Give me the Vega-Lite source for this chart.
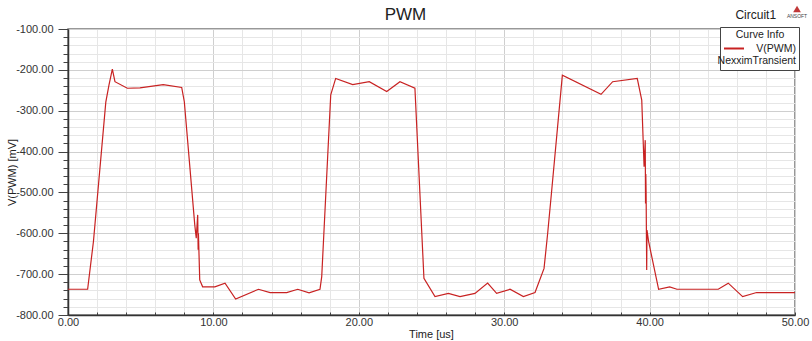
{
  "$schema": "https://vega.github.io/schema/vega-lite/v6.json",
  "width": 727,
  "height": 286,
  "autosize": "none",
  "padding": {"left": 68, "top": 29, "right": 17, "bottom": 26},
  "background": "white",
  "title": {"text": "PWM", "fontSize": 17, "font": "Liberation Sans", "fontWeight": "normal", "color": "#222", "offset": 0, "dx": -26, "dy": 18},
  "config": {"view": {"stroke": "#777", "strokeWidth": 1.5}, "font": "Liberation Sans"},
  "resolve": {"axis": {"x": "independent", "y": "independent"}},
  "layer": [
    {
      "data": {"values": [
        {"t": 0, "v": -737}, {"t": 1.35, "v": -737}, {"t": 1.75, "v": -620}, {"t": 2.6, "v": -279},
        {"t": 2.82, "v": -237}, {"t": 3.05, "v": -198}, {"t": 3.23, "v": -229}, {"t": 4.08, "v": -245},
        {"t": 4.95, "v": -244}, {"t": 6.55, "v": -236}, {"t": 7.82, "v": -243}, {"t": 8.0, "v": -278},
        {"t": 8.72, "v": -580}, {"t": 8.82, "v": -612}, {"t": 8.92, "v": -555}, {"t": 8.95, "v": -640},
        {"t": 8.97, "v": -600}, {"t": 9.06, "v": -714}, {"t": 9.26, "v": -731}, {"t": 10.1, "v": -731},
        {"t": 10.8, "v": -722}, {"t": 11.53, "v": -761}, {"t": 13.1, "v": -737}, {"t": 13.9, "v": -745},
        {"t": 15.04, "v": -745}, {"t": 15.8, "v": -737}, {"t": 16.58, "v": -746}, {"t": 17.33, "v": -737},
        {"t": 17.45, "v": -706}, {"t": 18.07, "v": -261}, {"t": 18.41, "v": -221}, {"t": 19.58, "v": -236},
        {"t": 20.72, "v": -229}, {"t": 21.92, "v": -253}, {"t": 22.83, "v": -229}, {"t": 23.86, "v": -245},
        {"t": 24.48, "v": -710}, {"t": 25.24, "v": -755}, {"t": 26.16, "v": -747}, {"t": 26.96, "v": -755},
        {"t": 27.99, "v": -747}, {"t": 28.86, "v": -722}, {"t": 29.48, "v": -747}, {"t": 30.4, "v": -737},
        {"t": 31.32, "v": -755}, {"t": 32.12, "v": -745}, {"t": 32.74, "v": -686}, {"t": 32.99, "v": -600},
        {"t": 33.27, "v": -494}, {"t": 34.0, "v": -213}, {"t": 36.66, "v": -260}, {"t": 37.46, "v": -229},
        {"t": 39.15, "v": -221}, {"t": 39.46, "v": -274}, {"t": 39.62, "v": -437}, {"t": 39.7, "v": -372},
        {"t": 39.72, "v": -527}, {"t": 39.74, "v": -455}, {"t": 39.76, "v": -500}, {"t": 39.8, "v": -690},
        {"t": 39.82, "v": -592}, {"t": 39.93, "v": -620}, {"t": 40.62, "v": -737}, {"t": 41.38, "v": -731},
        {"t": 41.88, "v": -737}, {"t": 44.72, "v": -737}, {"t": 45.41, "v": -722}, {"t": 46.4, "v": -755},
        {"t": 47.36, "v": -745}, {"t": 50, "v": -745}
      ]},
      "mark": {"type": "line", "strokeWidth": 1.2, "clip": true},
      "encoding": {
        "x": {
          "field": "t", "type": "quantitative",
          "scale": {"domain": [0, 50], "nice": false, "zero": false},
          "axis": {
            "title": "Time [us]",
            "values": [0, 2, 4, 6, 8, 10, 12, 14, 16, 18, 20, 22, 24, 26, 28, 30, 32, 34, 36, 38, 40, 42, 44, 46, 48, 50],
            "labelExpr": "datum.value % 10 === 0 ? format(datum.value, '.2f') : ''",
            "labelFlush": false, "labelOverlap": false,
            "labelFont": "Liberation Sans", "labelFontSize": 11, "labelColor": "#333",
            "labelBaseline": "top", "labelPadding": 4,
            "tickSize": -3, "tickColor": "#444",
            "domainColor": "#333", "domainWidth": 1.5,
            "gridColor": {"condition": {"test": "datum.value % 10 === 0", "value": "#cfcfcf"}, "value": "#e6e6e6"},
            "titleFont": "Liberation Sans", "titleFontSize": 11, "titleFontWeight": "normal", "titleColor": "#222",
            "titleX": 363, "titleY": 19, "titleBaseline": "middle", "titleAlign": "center"
          }
        },
        "y": {
          "field": "v", "type": "quantitative",
          "scale": {"domain": [-800, -100], "nice": false, "zero": false},
          "axis": {
            "title": "V(PWM) [mV]",
            "values": [-800, -780, -760, -740, -720, -700, -680, -660, -640, -620, -600, -580, -560, -540, -520, -500, -480, -460, -440, -420, -400, -380, -360, -340, -320, -300, -280, -260, -240, -220, -200, -180, -160, -140, -120, -100],
            "labelExpr": "datum.value % 100 === 0 ? (datum.value < 0 ? '-' : '') + format(abs(datum.value), '.2f') : ''",
            "labelFlush": false, "labelOverlap": false,
            "labelFont": "Liberation Sans", "labelFontSize": 11, "labelColor": "#333", "labelPadding": 5,
            "tickSize": {"condition": {"test": "datum.value % 100 === 0", "value": 10}, "value": 5},
            "tickColor": "#444",
            "domainColor": "#333", "domainWidth": 1.5,
            "gridColor": {"condition": {"test": "datum.value % 100 === 0", "value": "#cfcfcf"}, "value": "#e6e6e6"},
            "titleFont": "Liberation Sans", "titleFontSize": 11, "titleFontWeight": "normal", "titleColor": "#222",
            "titleX": -56, "titleY": 143, "titleAngle": -90, "titleBaseline": "middle", "titleAlign": "center"
          }
        },
        "color": {
          "datum": "V(PWM)",
          "scale": {"range": ["#c82222"]},
          "legend": {
            "title": "Curve Info", "orient": "none", "legendX": 652, "legendY": -2,
            "titleAnchor": "middle", "titleFont": "Liberation Sans", "titleFontSize": 10.5, "titleFontWeight": "normal", "titleColor": "#222",
            "titlePadding": -3,
            "labelExpr": "['V(PWM)', 'NexximTransient']",
            "labelFont": "Liberation Sans", "labelFontSize": 10.5, "labelColor": "#222",
            "labelAlign": "right", "labelOffset": 51,
            "symbolType": "stroke", "symbolSize": 400, "symbolStrokeWidth": 2,
            "strokeColor": "#444", "fillColor": "white", "padding": 3
          }
        }
      }
    },
    {
      "data": {"values": [{"label": "Circuit1"}]},
      "mark": {"type": "text", "font": "Liberation Sans", "fontSize": 12, "color": "#222"},
      "encoding": {"x": {"datum": 47.3, "axis": null}, "y": {"datum": -66, "axis": null}, "text": {"field": "label"}}
    },
    {
      "data": {"values": [{"label": "logo"}]},
      "mark": {"type": "point", "shape": "triangle-up", "filled": true, "color": "#c03838", "size": 60, "opacity": 1},
      "encoding": {"x": {"datum": 50.14, "axis": null}, "y": {"datum": -51, "axis": null}}
    },
    {
      "data": {"values": [{"label": "ANSOFT"}]},
      "mark": {"type": "text", "font": "Liberation Sans", "fontSize": 5, "color": "#444"},
      "encoding": {"x": {"datum": 50.14, "axis": null}, "y": {"datum": -68, "axis": null}, "text": {"field": "label"}}
    }
  ]
}
